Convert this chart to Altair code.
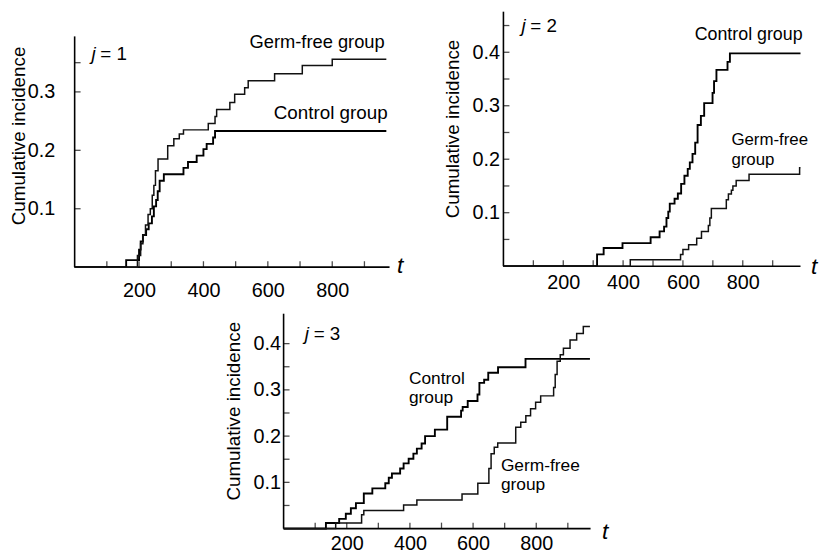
import altair as alt
import pandas as pd

FONT = "Liberation Sans"

# ---------------- data ----------------
# j = 1
j1_control_t = [0, 160, 200, 205, 212, 222, 230, 240, 246, 253, 258, 264, 277, 338, 352, 379, 400, 410, 430, 436, 968]
j1_control_v = [0, 0.012, 0.03, 0.044, 0.055, 0.065, 0.075, 0.087, 0.104, 0.115, 0.13, 0.148, 0.159, 0.17, 0.18, 0.191, 0.202, 0.211, 0.222, 0.233, 0.233]
j1_germfree_t = [0, 195, 205, 212, 220, 228, 235, 241, 246, 251, 259, 289, 308, 325, 338, 415, 436, 441, 482, 497, 528, 539, 621, 707, 800, 968]
j1_germfree_v = [0, 0.02, 0.04, 0.055, 0.072, 0.09, 0.1, 0.123, 0.14, 0.165, 0.185, 0.208, 0.22, 0.228, 0.235, 0.246, 0.258, 0.27, 0.282, 0.296, 0.307, 0.319, 0.331, 0.345, 0.356, 0.356]

# j = 2
j2_control_t = [0, 313, 335, 398, 492, 522, 537, 545, 551, 556, 572, 583, 594, 605, 616, 623, 632, 641, 649, 660, 671, 699, 704, 712, 749, 757, 993]
j2_control_v = [0, 0.022, 0.034, 0.043, 0.054, 0.065, 0.074, 0.09, 0.102, 0.117, 0.126, 0.136, 0.154, 0.169, 0.182, 0.194, 0.21, 0.231, 0.264, 0.281, 0.305, 0.324, 0.346, 0.367, 0.382, 0.398, 0.398]
j2_germfree_t = [0, 424, 592, 600, 619, 646, 662, 685, 690, 695, 745, 752, 762, 767, 778, 821, 990, 993]
j2_germfree_v = [0, 0.012, 0.022, 0.031, 0.04, 0.052, 0.065, 0.076, 0.09, 0.108, 0.124, 0.135, 0.142, 0.15, 0.16, 0.172, 0.184, 0.184]

# j = 3
j3_control_t = [0, 134, 176, 197, 213, 229, 254, 281, 322, 333, 343, 369, 380, 396, 411, 422, 437, 448, 479, 518, 562, 567, 583, 614, 620, 635, 648, 679, 766, 970]
j3_control_v = [0, 0.012, 0.021, 0.032, 0.044, 0.055, 0.076, 0.087, 0.098, 0.11, 0.119, 0.13, 0.141, 0.151, 0.162, 0.173, 0.184, 0.2, 0.214, 0.242, 0.255, 0.263, 0.276, 0.29, 0.315, 0.322, 0.337, 0.349, 0.367, 0.367]
j3_germfree_t = [0, 165, 247, 254, 380, 422, 565, 615, 650, 657, 667, 678, 735, 751, 767, 782, 798, 814, 855, 860, 866, 876, 886, 907, 928, 949, 970]
j3_germfree_v = [0, 0.012, 0.03, 0.039, 0.051, 0.062, 0.075, 0.098, 0.13, 0.162, 0.176, 0.185, 0.219, 0.23, 0.244, 0.259, 0.273, 0.287, 0.305, 0.333, 0.362, 0.376, 0.39, 0.408, 0.422, 0.437, 0.437]

x_labels = [200, 400, 600, 800]
x_ticks = [100, 200, 300, 400, 500, 600, 700, 800, 900]
j1_y_labels = [0.1, 0.2, 0.3]
j1_y_ticks = [0.1, 0.2, 0.3, 0.35]
j2_y_labels = [0.1, 0.2, 0.3, 0.4]
j2_y_ticks = [0.05, 0.1, 0.15, 0.2, 0.25, 0.3, 0.35, 0.4, 0.45]
j3_y_labels = [0.1, 0.2, 0.3, 0.4]
j3_y_ticks = [0.05, 0.1, 0.15, 0.2, 0.25, 0.3, 0.35, 0.4]


def panel(j, ct, cv, gt, gv, g):
    X = alt.X("t:Q",
              scale=alt.Scale(domain=[0, g["xmax"]], nice=False, zero=False),
              axis=alt.Axis(values=x_labels, format="d", domain=False, ticks=False, tickSize=0,
                            grid=False, labelFont=FONT, labelFontSize=20, labelColor="black",
                            labelPadding=g["xpad"], labelFlush=False,
                            title="t", titleFont=FONT, titleFontSize=23, titleFontStyle="italic",
                            titleFontWeight="normal", titleColor="black", titleAngle=0,
                            titleAlign="left", titleBaseline="alphabetic",
                            titleX=g["tx"], titleY=g["ty"]))
    Y = alt.Y("v:Q",
              scale=alt.Scale(domain=[0, g["ymax"]], nice=False, zero=False),
              axis=alt.Axis(values=g["ylabels"], format=".1f", domain=False, ticks=False, tickSize=0,
                            grid=False, labelFont=FONT, labelFontSize=20, labelColor="black",
                            labelPadding=g["ypad"], labelFlush=False,
                            title="Cumulative incidence", titleFont=FONT, titleFontSize=19,
                            titleFontWeight="normal", titleColor="black", titleAngle=270,
                            titleAlign="center", titleBaseline="middle",
                            titleX=g["yx"], titleY=g["yy"]))

    yaxis = alt.Chart(pd.DataFrame({"t": [0], "v": [0], "v2": [g["ytop"]]})).mark_rule(
        color="black", strokeWidth=1.6).encode(x=X, y=Y, y2="v2")
    xaxis = alt.Chart(pd.DataFrame({"t": [0], "t2": [g["xmax"]], "v": [0]})).mark_rule(
        color="black", strokeWidth=1.6).encode(x=X, x2="t2", y=Y)
    yt = alt.Chart(pd.DataFrame({"t": [0] * len(g["yticks"]), "v": g["yticks"]})).mark_tick(
        orient="horizontal", size=6, thickness=1.3, xOffset=3, color="black").encode(x=X, y=Y)
    xt = alt.Chart(pd.DataFrame({"t": x_ticks, "v": [0] * len(x_ticks)})).mark_tick(
        orient="vertical", size=6, thickness=1.3, yOffset=-3, color="black").encode(x=X, y=Y)

    ctrl = alt.Chart(pd.DataFrame({"t": ct, "v": cv})).mark_line(
        interpolate="step-after", color="black", strokeWidth=1.9).encode(x=X, y=Y)
    germ = alt.Chart(pd.DataFrame({"t": gt, "v": gv})).mark_line(
        interpolate="step-after", color="#111111", strokeWidth=1.5).encode(x=X, y=Y)

    layers = [yaxis, xaxis, yt, xt, ctrl, germ]
    for lab in g["labels"]:
        txt, tt, vv, align, fs = lab
        layers.append(alt.Chart(pd.DataFrame({"t": [tt], "v": [vv]})).mark_text(
            text=txt, align=align, baseline="alphabetic", font=FONT, fontSize=fs,
            color="black").encode(x=X, y=Y))
    jt, jv = g["jpos"]
    layers.append(alt.Chart(pd.DataFrame({"t": [jt], "v": [jv]})).mark_text(
        text="j", align="left", baseline="alphabetic", font=FONT, fontSize=19,
        fontStyle="italic", color="black").encode(x=X, y=Y))
    layers.append(alt.Chart(pd.DataFrame({"t": [jt], "v": [jv]})).mark_text(
        text="= %d" % j, align="left", baseline="alphabetic", font=FONT, fontSize=19, dx=9,
        color="black").encode(x=X, y=Y))

    return alt.layer(*layers).properties(width=g["w"], height=g["h"])


g1 = dict(w=318, h=258, xmax=978, ymax=0.4373, ytop=0.395, ylabels=j1_y_labels, yticks=j1_y_ticks,
          xpad=14, ypad=20, tx=325, ty=5, yx=-56.5, yy=125,
          jpos=(52, 0.354),
          labels=[("Germ-free group", 963, 0.3746, "right", 18.5),
                  ("Control group", 972, 0.253, "right", 19)])
g2 = dict(w=300, h=257, xmax=993, ymax=0.4759, ytop=0.4759, ylabels=j2_y_labels, yticks=j2_y_ticks,
          xpad=7, ypad=4, tx=310, ty=7, yx=-51.3, yy=118,
          jpos=(60, 0.438),
          labels=[("Control group", 1000, 0.4228, "right", 18),
                  ("Germ-free", 762, 0.2272, "left", 17),
                  ("group", 762, 0.1895, "left", 17)])
g3 = dict(w=310, h=217, xmax=972, ymax=0.4647, ytop=0.4647, ylabels=j3_y_labels, yticks=j3_y_ticks,
          xpad=5, ypad=3, tx=321, ty=10, yx=-50.5, yy=98,
          jpos=(67, 0.408),
          labels=[("Control", 397, 0.3125, "left", 17.5),
                  ("group", 397, 0.2715, "left", 17.5),
                  ("Germ-free", 688, 0.1235, "left", 17.5),
                  ("group", 688, 0.0825, "left", 17.5)])

p1 = panel(1, j1_control_t, j1_control_v, j1_germfree_t, j1_germfree_v, g1)
p2 = panel(2, j2_control_t, j2_control_v, j2_germfree_t, j2_germfree_v, g2)
p3 = panel(3, j3_control_t, j3_control_v, j3_germfree_t, j3_germfree_v, g3)

top = alt.hconcat(p1, p2, spacing=115, bounds="flush")
chart = alt.vconcat(top, p3, spacing=12, center=True).properties(
    padding={"left": 1, "top": 0, "right": 4, "bottom": 4},
    background="white",
).configure_view(stroke=None)

chart.save("out.html", embed_options={"renderer": "svg", "actions": False})
